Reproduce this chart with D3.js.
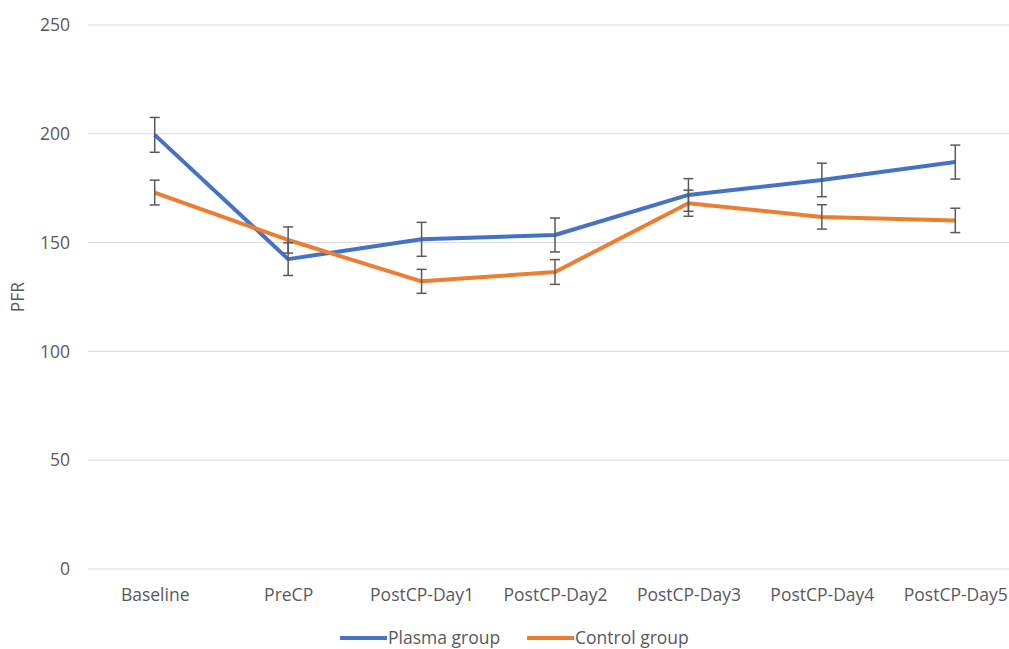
<!DOCTYPE html>
<html>
<head>
<meta charset="utf-8">
<script src="https://cdn.jsdelivr.net/npm/d3@7"></script>
<style>
  body { margin: 0; background: #fff; }
  svg { display: block; }
  svg text { font-family: "Open Sans", sans-serif; }
</style>
</head>
<body>
<svg id="chart"></svg>
<script>
const categories = ['Baseline', 'PreCP', 'PostCP-Day1', 'PostCP-Day2', 'PostCP-Day3', 'PostCP-Day4', 'PostCP-Day5'];
const plasmaValues = [199.5, 142.4, 151.5, 153.5, 171.9, 178.8, 187.0];
const plasmaErrors = [8, 7.5, 7.8, 7.8, 7.5, 7.7, 7.8];
const controlValues = [173.0, 151.2, 132.2, 136.5, 168.1, 161.8, 160.2];
const controlErrors = [5.7, 6, 5.5, 5.7, 6, 5.6, 5.6];
const yTicks = [0, 50, 100, 150, 200, 250];

const width = 1009;
const height = 649;
const margin = { left: 88, right: -13, top: 25, bottom: 80 };
const fontSize = '17.5px';

const svg = d3.select('#chart')
    .attr('width', width)
    .attr('height', height);

const x = d3.scalePoint()
    .domain(categories)
    .range([margin.left, width - margin.right])
    .padding(0.5);

const y = d3.scaleLinear()
    .domain([0, 250])
    .range([height - margin.bottom, margin.top]);

// gridlines
svg.append('g')
    .selectAll('line')
    .data(yTicks)
    .enter().append('line')
    .attr('x1', margin.left)
    .attr('x2', width - margin.right)
    .attr('y1', d => y(d))
    .attr('y2', d => y(d))
    .attr('stroke', '#d9d9d9')
    .attr('stroke-width', 1);

// y axis labels
const yAxis = svg.append('g')
    .attr('transform', `translate(${margin.left - 18},0)`)
    .call(d3.axisLeft(y).tickValues(yTicks).tickSize(0).tickPadding(0));
yAxis.attr('font-family', null).attr('font-size', null);
yAxis.select('.domain').remove();
yAxis.selectAll('text')
    .attr('fill', '#595959')
    .style('font-size', fontSize);

// x axis labels
const xAxis = svg.append('g')
    .attr('transform', `translate(0,${y(0) + 20})`)
    .call(d3.axisBottom(x).tickSize(0).tickPadding(0));
xAxis.attr('font-family', null).attr('font-size', null);
xAxis.select('.domain').remove();
xAxis.selectAll('text')
    .attr('fill', '#595959')
    .style('font-size', fontSize);

svg.append('text')
    .attr('transform', `translate(24,${(y(0) + y(250)) / 2}) rotate(-90)`)
    .attr('text-anchor', 'middle')
    .attr('fill', '#595959')
    .style('font-size', fontSize)
    .text('PFR');

const series = [
    { name: 'Plasma group', values: plasmaValues, errors: plasmaErrors, color: '#4472c4' },
    { name: 'Control group', values: controlValues, errors: controlErrors, color: '#ed7d31' }
];

const line = d3.line()
    .x((d, i) => x(categories[i]))
    .y(d => y(d));

series.forEach(s => {
    svg.append('path')
        .datum(s.values)
        .attr('fill', 'none')
        .attr('stroke', s.color)
        .attr('stroke-width', 4)
        .attr('stroke-linejoin', 'round')
        .attr('d', line);
});

// error bars on top
series.forEach(s => {
    const g = svg.append('g')
        .attr('stroke', '#595959')
        .attr('stroke-width', 1.5);
    s.values.forEach((v, i) => {
        const cx = x(categories[i]);
        const top = y(v + s.errors[i]);
        const bot = y(v - s.errors[i]);
        g.append('line').attr('x1', cx).attr('x2', cx).attr('y1', top).attr('y2', bot);
        g.append('line').attr('x1', cx - 5).attr('x2', cx + 5).attr('y1', top).attr('y2', top);
        g.append('line').attr('x1', cx - 5).attr('x2', cx + 5).attr('y1', bot).attr('y2', bot);
    });
});

// legend
const legendItems = [
    { x: 340, s: series[0] },
    { x: 527, s: series[1] }
];
legendItems.forEach(item => {
    const lg = svg.append('g').attr('transform', `translate(${item.x},638)`);
    lg.append('line')
        .attr('x1', 0).attr('x2', 47)
        .attr('stroke', item.s.color)
        .attr('stroke-width', 4);
    lg.append('text')
        .attr('x', 48)
        .attr('dy', '0.35em')
        .attr('fill', '#595959')
        .style('font-size', fontSize)
        .text(item.s.name);
});
</script>
</body>
</html>
